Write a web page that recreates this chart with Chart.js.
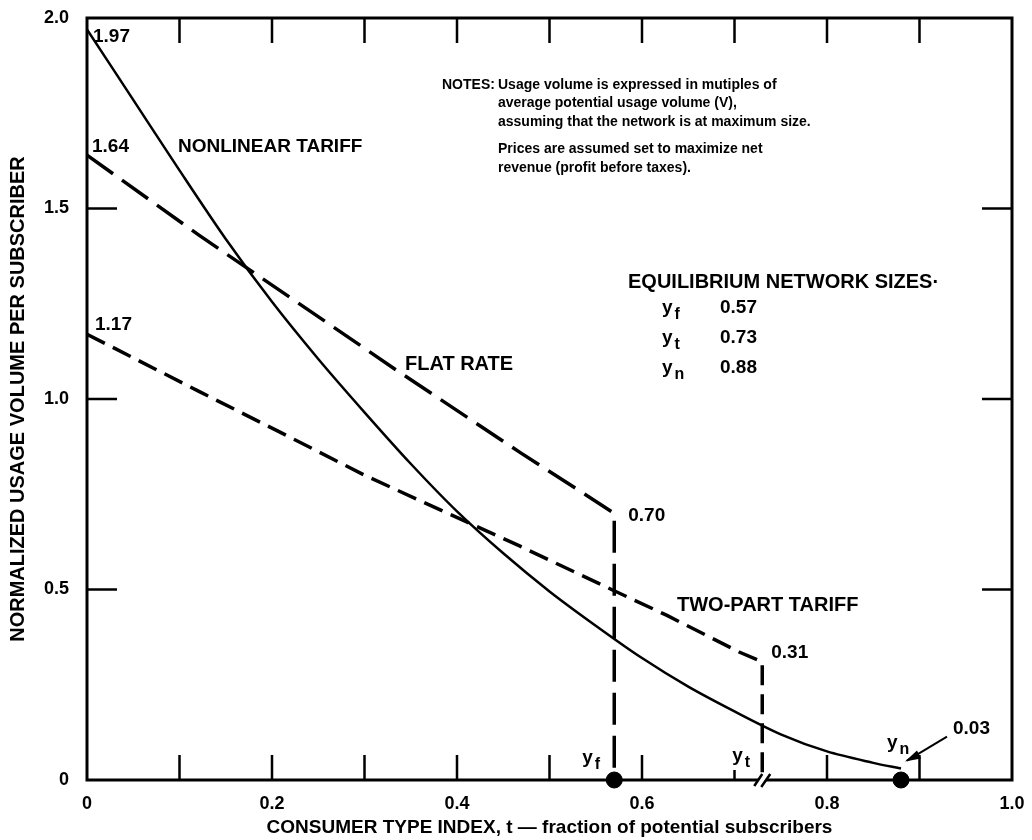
<!DOCTYPE html>
<html>
<head>
<meta charset="utf-8">
<script src="https://cdn.jsdelivr.net/npm/chart.js@4.4.1/dist/chart.umd.min.js"></script>
<style>
html, body { margin: 0; padding: 0; background: #fff; }
#wrap { width: 1032px; height: 840px; }
</style>
</head>
<body>
<div id="wrap"><canvas id="chart" width="1032" height="840"></canvas></div>
<script>
// values
const nonlinearT = [0, 0.05, 0.10, 0.15, 0.20, 0.25, 0.30, 0.35, 0.40, 0.45, 0.50, 0.55, 0.60, 0.65, 0.70, 0.75, 0.80, 0.85, 0.88];
const nonlinearV = [1.97, 1.785, 1.60, 1.42, 1.255, 1.105, 0.965, 0.83, 0.705, 0.595, 0.495, 0.405, 0.32, 0.245, 0.18, 0.12, 0.075, 0.045, 0.03];

const flatT = [0, 0.121, 0.338, 0.468, 0.57, 0.57];
const flatV = [1.64, 1.43, 1.07, 0.86, 0.70, 0];

const twoPartT = [0, 0.121, 0.207, 0.30, 0.39, 0.467, 0.567, 0.627, 0.705, 0.73, 0.73];
const twoPartV = [1.17, 1.02, 0.915, 0.80, 0.70, 0.615, 0.50, 0.432, 0.336, 0.31, 0];

// equilibrium network sizes
const eqNames = ['f', 't', 'n'];
const eqSizes = [0.57, 0.73, 0.88];

const xTicks = [0, 0.2, 0.4, 0.6, 0.8, 1.0];
const yTicks = [0, 0.5, 1.0, 1.5, 2.0];
const xMinor = [0.1, 0.2, 0.3, 0.4, 0.5, 0.6, 0.7, 0.8, 0.9];
const yMinor = [0.5, 1.0, 1.5];

const FONT = "'Liberation Sans', Arial, sans-serif";

function pts(ts, vs) {
    return ts.map((t, i) => ({ x: t, y: vs[i] }));
}

function text(ctx, str, x, y, size, align) {
    ctx.font = `bold ${size}px ${FONT}`;
    ctx.textAlign = align || 'left';
    ctx.textBaseline = 'middle';
    ctx.fillText(str, x, y);
}

// y with a subscript, as in the figure
function ySub(ctx, sub, x, y, size) {
    text(ctx, 'y', x, y, size);
    const w = ctx.measureText('y').width;
    text(ctx, sub, x + w + 2, y + 7, size - 3);
}

const decor = {
    id: 'decor',
    afterDatasetsDraw(chart) {
        const { ctx, chartArea: a, scales: { x, y } } = chart;
        ctx.save();
        ctx.strokeStyle = '#000';
        ctx.fillStyle = '#000';

        // frame
        ctx.lineWidth = 3;
        ctx.strokeRect(a.left, a.top, a.right - a.left, a.bottom - a.top);

        // inward ticks
        ctx.lineWidth = 2.5;
        ctx.beginPath();
        xMinor.forEach(t => {
            const px = x.getPixelForValue(t);
            const len = Math.abs(t - 0.7) < 1e-6 ? 10 : 25;
            ctx.moveTo(px, a.bottom);
            ctx.lineTo(px, a.bottom - len);
            ctx.moveTo(px, a.top);
            ctx.lineTo(px, a.top + 25);
        });
        yMinor.forEach(v => {
            const py = y.getPixelForValue(v);
            ctx.moveTo(a.left, py);
            ctx.lineTo(a.left + 30, py);
            ctx.moveTo(a.right, py);
            ctx.lineTo(a.right - 30, py);
        });
        ctx.stroke();

        // break mark on the axis at y_t
        const bx = x.getPixelForValue(eqSizes[1]);
        ctx.save();
        ctx.translate(bx, a.bottom);
        ctx.fillStyle = '#fff';
        ctx.beginPath();
        ctx.moveTo(-7, 6); ctx.lineTo(-1, 6); ctx.lineTo(7, -6); ctx.lineTo(1, -6);
        ctx.closePath();
        ctx.fill();
        ctx.lineWidth = 2.5;
        ctx.beginPath();
        ctx.moveTo(-8, 6); ctx.lineTo(0, -6);
        ctx.moveTo(-1, 7); ctx.lineTo(8, -6);
        ctx.stroke();
        ctx.restore();

        // value labels at line ends
        const x0 = x.getPixelForValue(0);
        text(ctx, nonlinearV[0].toFixed(2), x0 + 6, y.getPixelForValue(nonlinearV[0]) + 7, 19);
        text(ctx, flatV[0].toFixed(2), x0 + 5, y.getPixelForValue(flatV[0]) - 8, 19);
        text(ctx, twoPartV[0].toFixed(2), x0 + 8, y.getPixelForValue(twoPartV[0]) - 9, 19);

        const fx = x.getPixelForValue(eqSizes[0]);
        text(ctx, flatV[4].toFixed(2), fx + 14, y.getPixelForValue(flatV[4]) + 2, 19);
        const tx = x.getPixelForValue(eqSizes[1]);
        text(ctx, twoPartV[9].toFixed(2), tx + 9, y.getPixelForValue(twoPartV[9]) - 9, 19);

        const nEnd = nonlinearV.length - 1;
        const ex = x.getPixelForValue(nonlinearT[nEnd]);
        const ey = y.getPixelForValue(nonlinearV[nEnd]);
        text(ctx, nonlinearV[nEnd].toFixed(2), ex + 52, ey - 40, 19);
        // arrow to the end of the nonlinear curve
        ctx.lineWidth = 2;
        ctx.beginPath();
        ctx.moveTo(ex + 46, ey - 32);
        ctx.lineTo(ex + 6, ey - 8);
        ctx.stroke();
        ctx.beginPath();
        ctx.moveTo(ex + 4, ey - 7);
        ctx.lineTo(ex + 16, ey - 18);
        ctx.lineTo(ex + 20, ey - 10);
        ctx.closePath();
        ctx.fill();

        // curve names
        text(ctx, 'NONLINEAR TARIFF', 178, 147, 19);
        text(ctx, 'FLAT RATE', 405, 364, 20);
        text(ctx, 'TWO-PART TARIFF', 677, 605, 20);

        // y_f, y_t, y_n along the axis
        ySub(ctx, eqNames[0], fx - 32, a.bottom - 22, 19);
        ySub(ctx, eqNames[1], tx - 30, a.bottom - 24, 19);
        ySub(ctx, eqNames[2], ex - 14, a.bottom - 37, 19);

        // notes block
        text(ctx, 'NOTES:', 442, 85, 14);
        const notes = [
            ['Usage volume is expressed in mutiples of', 85],
            ['average potential usage volume (V),', 103],
            ['assuming that the network is at maximum size.', 122],
            ['Prices are assumed set to maximize net', 149],
            ['revenue (profit before taxes).', 168]
        ];
        notes.forEach(([s, py]) => text(ctx, s, 498, py, 14));

        text(ctx, 'EQUILIBRIUM NETWORK SIZES\u00b7', 628, 282, 20);
        eqNames.forEach((n, i) => {
            const py = 308 + i * 30;
            ySub(ctx, n, 662, py, 19);
            text(ctx, eqSizes[i].toFixed(2), 720, py, 19);
        });

        ctx.restore();
    }
};

const ctx = document.getElementById('chart').getContext('2d');
new Chart(ctx, {
    type: 'scatter',
    data: {
        datasets: [
            {
                label: 'Nonlinear tariff',
                data: pts(nonlinearT, nonlinearV),
                showLine: true,
                borderColor: '#000',
                borderWidth: 2.5,
                pointRadius: 0,
                tension: 0.3
            },
            {
                label: 'Flat rate',
                data: pts(flatT, flatV),
                showLine: true,
                borderColor: '#000',
                borderWidth: 3.5,
                borderDash: [32, 11],
                pointRadius: 0
            },
            {
                label: 'Two-part tariff',
                data: pts(twoPartT, twoPartV),
                showLine: true,
                borderColor: '#000',
                borderWidth: 3.5,
                borderDash: [20, 9],
                pointRadius: 0
            },
            {
                label: 'Network sizes',
                data: eqSizes.map(t => ({ x: t, y: 0 })),
                showLine: false,
                pointRadius: c => (c.dataIndex === 1 ? 0 : 8),
                pointBackgroundColor: '#000',
                pointBorderColor: '#000',
                clip: false
            }
        ]
    },
    options: {
        responsive: false,
        animation: false,
        layout: { padding: { top: 18, right: 20, left: 0, bottom: 0 } },
        plugins: {
            legend: { display: false },
            tooltip: { enabled: false }
        },
        scales: {
            x: {
                type: 'linear',
                min: 0,
                max: 1,
                afterBuildTicks: s => { s.ticks = xTicks.map(v => ({ value: v })); },
                afterFit: s => { s.height = 60; s.paddingRight = 0; s.paddingLeft = 0; },
                grid: { display: false, drawTicks: false },
                border: { display: false },
                ticks: {
                    color: '#000',
                    padding: 13,
                    maxRotation: 0,
                    font: { family: FONT, size: 18, weight: 'bold' },
                    callback: v => (v === 0 ? '0' : v.toFixed(1))
                },
                title: {
                    display: true,
                    text: 'CONSUMER TYPE INDEX, t \u2014 fraction of potential subscribers',
                    color: '#000',
                    padding: { top: 0, bottom: 1 },
                    font: { family: FONT, size: 19, weight: 'bold' }
                }
            },
            y: {
                type: 'linear',
                min: 0,
                max: 2,
                afterBuildTicks: s => { s.ticks = yTicks.map(v => ({ value: v })); },
                afterFit: s => { s.width = 87; s.paddingTop = 0; s.paddingBottom = 0; },
                grid: { display: false, drawTicks: false },
                border: { display: false },
                ticks: {
                    color: '#000',
                    padding: 18,
                    font: { family: FONT, size: 18, weight: 'bold' },
                    callback: v => (v === 0 ? '0' : v.toFixed(1))
                },
                title: {
                    display: true,
                    text: 'NORMALIZED USAGE VOLUME PER SUBSCRIBER',
                    color: '#000',
                    padding: { top: 6, bottom: 0 },
                    font: { family: FONT, size: 20, weight: 'bold' }
                }
            }
        }
    },
    plugins: [decor]
});
</script>
</body>
</html>
